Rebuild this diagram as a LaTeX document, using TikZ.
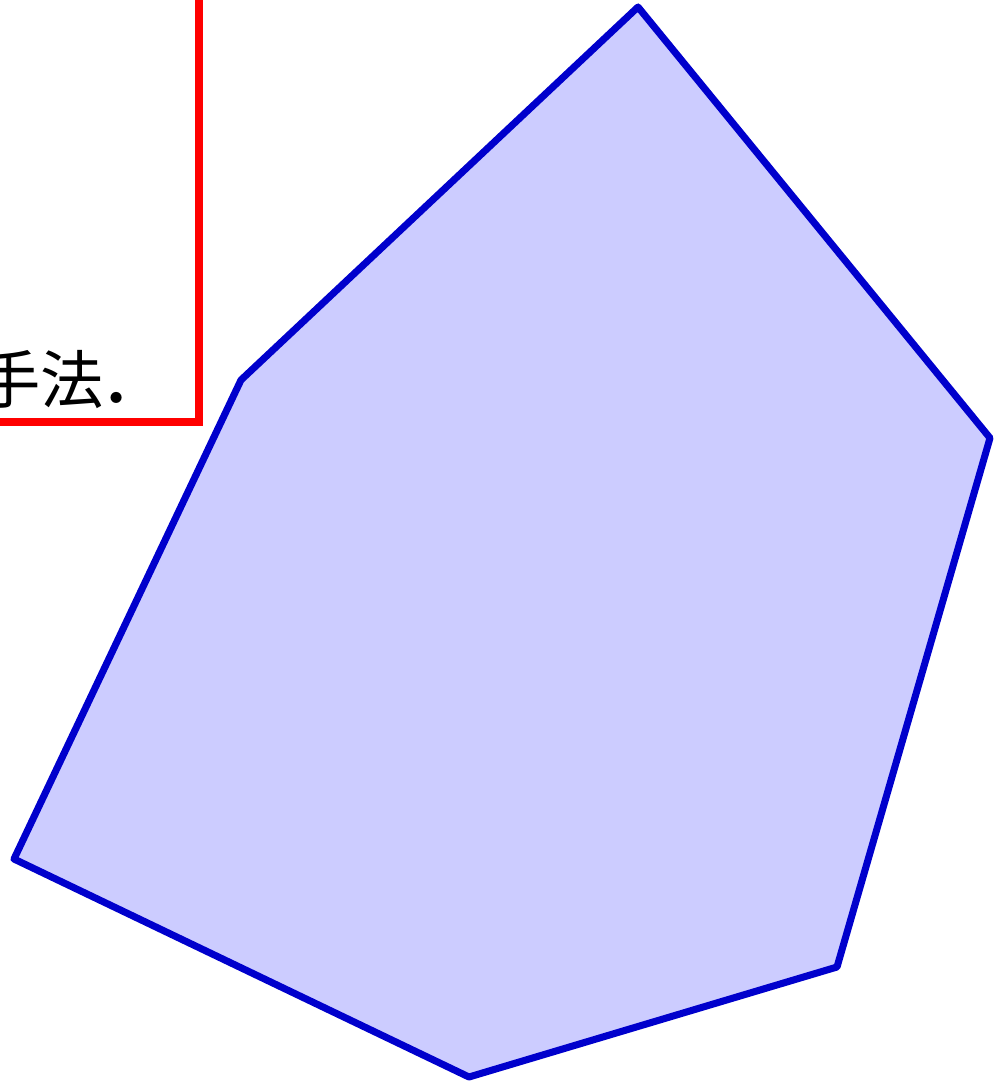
\documentclass[tikz,border=0pt]{standalone}
\usepackage{fontspec}
\newfontfamily\cjk{Noto Sans CJK JP}
\usetikzlibrary{positioning}
\begin{document}
\begin{tikzpicture}[x=0.1mm,y=-0.1mm,
  hull/.style={draw=blue!80!black,fill=blue!20,line width=2pt,line join=round},
  frame/.style={draw=red,line width=2.3pt}]
 \useasboundingbox (0,0) rectangle (1000,1082);
 \clip (0,0) rectangle (1000,1082);
 % red box
 \draw[frame] (-300,-100) rectangle (199,422);
 \node[anchor=base east,inner sep=0pt,font=\fontsize{18}{22}\selectfont] (txt) at (129,404) {{\cjk 手法}{\fontsize{22}{22}\selectfont\bfseries.}};
 % polygon
 \filldraw[hull] (638,7) -- (990,438) -- (837,967) -- (469,1077) -- (14,859) -- (241,380) -- cycle;
\end{tikzpicture}
\end{document}
